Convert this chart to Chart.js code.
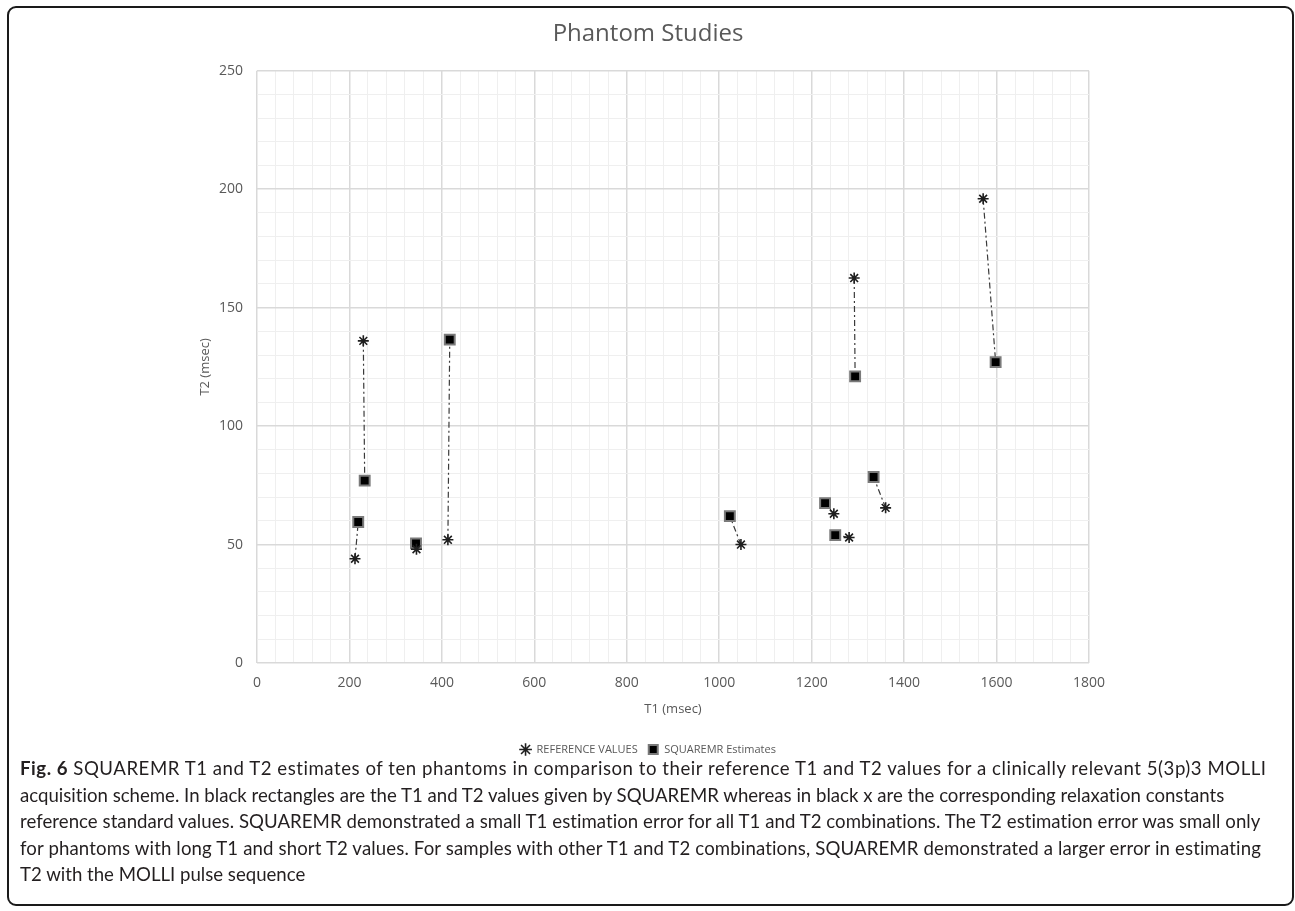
<!DOCTYPE html>
<html>
<head>
<meta charset="utf-8">
<script src="https://cdn.jsdelivr.net/npm/chart.js@4.4.1/dist/chart.umd.min.js"></script>
<style>
  html, body { margin: 0; padding: 0; background: #fff; }
  body { width: 1295px; height: 911px; position: relative; overflow: hidden; }
  #frame {
    position: absolute; left: 7px; top: 6px; width: 1283px; height: 896px;
    border: 2px solid #1a1a1a; border-radius: 9px;
  }
  #chartBox { position: absolute; left: 8px; top: 8px; width: 1280px; height: 763px; }
  #caption {
    position: absolute; left: 20px; top: 755px; width: 1265px;
    font-family: Lato, sans-serif; font-size: 16px; line-height: 26.5px;
    color: #231f20; white-space: nowrap;
  }
  #caption .ln { display: block; }
  #caption b { font-weight: 700; }
</style>
</head>
<body>
<div id="frame"></div>
<div id="chartBox"><canvas id="phantomChart"></canvas></div>
<div id="caption">
  <div class="ln"><b>Fig. 6</b> SQUAREMR T1 and T2 estimates of ten phantoms in comparison to their reference T1 and T2 values for a clinically relevant 5(3p)3 MOLLI</div>
  <div class="ln">acquisition scheme. In black rectangles are the T1 and T2 values given by SQUAREMR whereas in black x are the corresponding relaxation constants</div>
  <div class="ln">reference standard values. SQUAREMR demonstrated a small T1 estimation error for all T1 and T2 combinations. The T2 estimation error was small only</div>
  <div class="ln">for phantoms with long T1 and short T2 values. For samples with other T1 and T2 combinations, SQUAREMR demonstrated a larger error in estimating</div>
  <div class="ln">T2 with the MOLLI pulse sequence</div>
</div>
<script>
// Reference values (T1, T2) per phantom
const refT1 = [212, 230, 345, 413, 1047, 1248, 1281, 1360, 1292, 1571];
const refT2 = [44, 136, 48, 52, 50, 63, 53, 65.5, 162.5, 196];
// SQUAREMR estimates, same phantom order
const estT1 = [219, 233, 344, 417, 1023, 1229, 1251, 1334, 1294, 1598];
const estT2 = [59.5, 77, 50.5, 136.5, 62, 67.5, 54, 78.5, 121, 127];

const xTickLabels = [0, 200, 400, 600, 800, 1000, 1200, 1400, 1600, 1800];
const yTickLabels = [0, 50, 100, 150, 200, 250];

const labelGrey = '#595959';

// caption: one font size so no line overruns, then a little letter spacing to reach the line ends of the figure
(function () {
  const lines = Array.from(document.querySelectorAll('#caption .ln'));
  const targets = [1247, 1205, 1242, 1242];
  const widthOf = el => {
    el.style.display = 'inline-block';
    const w = el.getBoundingClientRect().width;
    el.style.display = 'block';
    return w;
  };
  let k = Infinity;
  targets.forEach((t, i) => { k = Math.min(k, t / widthOf(lines[i])); });
  document.getElementById('caption').style.fontSize = (16 * k).toFixed(2) + 'px';
  targets.forEach((t, i) => {
    const gap = t - widthOf(lines[i]);
    const chars = lines[i].textContent.trim().length;
    if (gap > 0) lines[i].style.letterSpacing = (gap / chars).toFixed(3) + 'px';
  });
})();

const refPoints = refT1.map((t1, i) => ({ x: t1, y: refT2[i] }));
const estPoints = estT1.map((t1, i) => ({ x: t1, y: estT2[i] }));

// dashed connectors between each reference and its estimate
const links = refPoints.map((p, i) => ({
  label: 'link' + i,
  data: [p, estPoints[i]],
  showLine: true,
  borderColor: '#3a3a3a',
  borderWidth: 1.2,
  borderDash: [6, 3, 2, 3],
  pointRadius: 0,
  pointHoverRadius: 0,
  order: 5
}));

const ctx = document.getElementById('phantomChart').getContext('2d');
new Chart(ctx, {
  type: 'scatter',
  data: {
    datasets: [
      {
        label: 'REFERENCE VALUES',
        data: refPoints,
        pointStyle: 'star',
        pointRadius: 5.5,
        borderColor: '#1f1f1f',
        backgroundColor: '#1f1f1f',
        pointBorderWidth: 1.6,
        order: 1
      },
      {
        label: 'SQUAREMR Estimates',
        data: estPoints,
        pointStyle: 'rect',
        pointRadius: 7,
        backgroundColor: '#000',
        borderColor: '#7a7a7a',
        pointBorderWidth: 2,
        order: 1
      },
      ...links
    ]
  },
  options: {
    responsive: true,
    maintainAspectRatio: false,
    animation: false,
    layout: { padding: { top: 0, left: 0, right: 0, bottom: 6 } },
    plugins: {
      title: {
        display: true,
        text: 'Phantom Studies',
        color: labelGrey,
        font: { family: 'Open Sans', size: 24, weight: 'normal' },
        padding: { top: 12, bottom: 22 }
      },
      legend: {
        position: 'bottom',
        labels: {
          usePointStyle: true,
          boxHeight: 9,
          color: labelGrey,
          font: { family: 'Open Sans', size: 11 },
          padding: 10,
          filter: item => !item.text.startsWith('link')
        }
      },
      tooltip: { enabled: false }
    },
    scales: {
      x: {
        type: 'linear',
        min: 0,
        max: 1800,
        afterFit: s => { s.height = 71; },
        border: { display: false },
        grid: {
          drawTicks: false,
          color: c => (c.tick.value % 200 === 0 ? '#d9d9d9' : '#efefef'),
          lineWidth: c => (c.tick.value % 200 === 0 ? 1.5 : 1)
        },
        ticks: {
          stepSize: 40,
          autoSkip: false,
          maxRotation: 0,
          padding: 12,
          color: labelGrey,
          font: { family: 'Open Sans', size: 14 },
          callback: v => (xTickLabels.includes(v) ? String(v) : '')
        },
        title: {
          display: true,
          text: 'T1 (msec)',
          color: labelGrey,
          font: { family: 'Open Sans', size: 13 },
          padding: { bottom: 17 }
        }
      },
      y: {
        type: 'linear',
        min: 0,
        max: 250,
        afterFit: s => { s.width = 249; },
        border: { display: false },
        grid: {
          drawTicks: false,
          color: c => (c.tick.value % 50 === 0 ? '#d9d9d9' : '#efefef'),
          lineWidth: c => (c.tick.value % 50 === 0 ? 1.5 : 1)
        },
        ticks: {
          stepSize: 10,
          autoSkip: false,
          padding: 14,
          color: labelGrey,
          font: { family: 'Open Sans', size: 14 },
          callback: v => (yTickLabels.includes(v) ? String(v) : '')
        },
        title: {
          display: true,
          text: 'T2 (msec)',
          color: labelGrey,
          font: { family: 'Open Sans', size: 13 },
          padding: { top: 189 }
        }
      },
      // empty right-hand spacer so the plot stops at 1800 while title/legend stay centred
      spacer: {
        type: 'linear',
        position: 'right',
        afterFit: s => { s.width = 199; },
        border: { display: false },
        grid: { display: false },
        ticks: { display: false }
      }
    }
  }
});
</script>
</body>
</html>
